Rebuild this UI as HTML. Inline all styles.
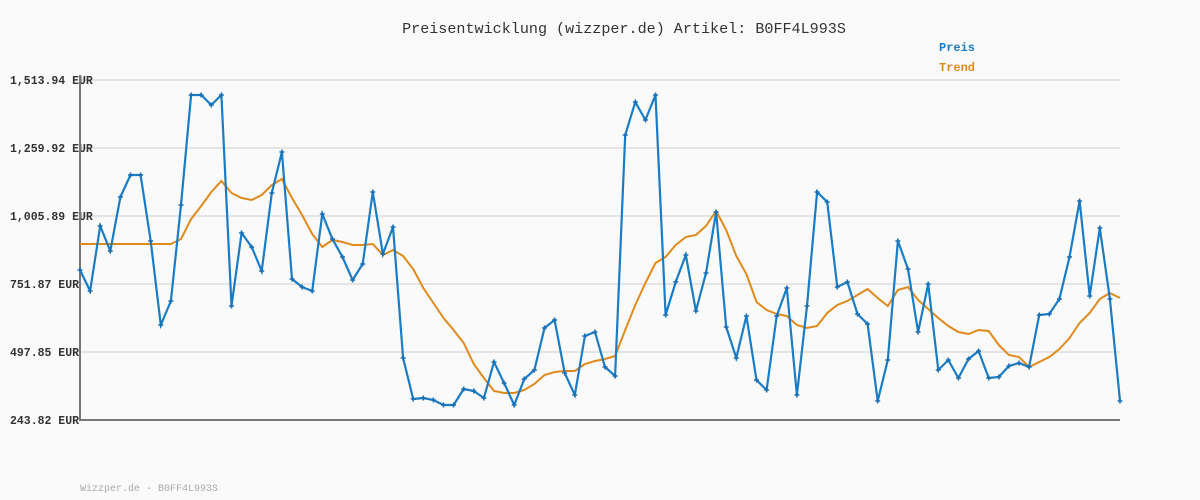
<!DOCTYPE html>
<html><head><meta charset="utf-8"><style>
html,body{margin:0;padding:0;background:#fafafa;}
svg{display:block;}
text{font-family:"Liberation Mono",monospace;}
</style></head><body>
<svg id="s" width="1200" height="500" xmlns="http://www.w3.org/2000/svg">
<rect width="1200" height="500" fill="#fafafa"/>
<text x="624" y="33" font-size="15.1" text-anchor="middle" fill="#333">Preisentwicklung (wizzper.de) Artikel: B0FF4L993S</text>
<text x="939" y="51" font-size="12" font-weight="bold" fill="#1a7cc4">Preis</text>
<text x="939" y="71" font-size="12" font-weight="bold" fill="#e08a1c">Trend</text>
<g stroke="#e4e4e4" stroke-width="2">
<line x1="80" y1="80" x2="1120" y2="80"/><line x1="80" y1="148" x2="1120" y2="148"/>
<line x1="80" y1="216" x2="1120" y2="216"/><line x1="80" y1="284" x2="1120" y2="284"/>
<line x1="80" y1="352" x2="1120" y2="352"/>
</g>
<g font-size="11.5" font-weight="bold" fill="#333">
<text x="10" y="84">1,513.94 EUR</text><text x="10" y="152">1,259.92 EUR</text>
<text x="10" y="220">1,005.89 EUR</text><text x="10" y="288">751.87 EUR</text>
<text x="10" y="356">497.85 EUR</text><text x="10" y="424">243.82 EUR</text>
</g>
<polyline points="80,75 80,420 1120,420" fill="none" stroke="#777" stroke-width="2"/>
<text x="80" y="491" font-size="10" fill="#aaa">Wizzper.de - B0FF4L993S</text>
<g id="g"></g>
</svg>
<script>
var p=[270,291,226,251,197,175,175,241,325,301,205,95,95,105,95,306,233,247,271,193,152,279,287,291,214,239,257,280,264,192,254,227,358,399,398,400,405,405,389,391,398,362,383,405,379,370,328,320,373,395,336,332,367,376,135,102,120,95,315,282,255,311,273,212,327,358,316,380,390,316,288,395,306,192,202,287,282,314,324,401,360,241,269,332,284,370,360,378,359,351,378,377,366,363,367,315,314,299,257,201,296,228,299,401];
var t=[244,244,244,244,244,244,244,244,244,244,239,219,206,192,181,193,198,200,195,185,179,198,215,234,247,240,242,245,245,244,255,250,256,269,288,303,318,330,343,364,378,391,393,393,390,384,375,372,371,371,364,361,359,356,330,305,283,263,257,245,237,235,226,211,230,256,274,302,310,314,316,325,328,326,313,305,301,295,289,298,306,290,287,300,309,318,326,332,334,330,331,345,355,357,367,362,357,349,338,323,313,299,293,298];
var g=document.getElementById('g'),ns='http://www.w3.org/2000/svg';
function pl(a,c,w){var n=a.length,s='';for(var i=0;i<n;i++)s+=(80+i*1040/(n-1)).toFixed(1)+','+a[i]+' ';var e=document.createElementNS(ns,'polyline');e.setAttribute('points',s);e.setAttribute('fill','none');e.setAttribute('stroke',c);e.setAttribute('stroke-width',w);g.appendChild(e);}
pl(t,'#e08a1c',2);pl(p,'#1a7cc4',2.2);
for(var i=0;i<p.length;i++){var x=80+i*1040/(p.length-1);var e=document.createElementNS(ns,'path');e.setAttribute('d','M'+(x-2.5)+','+p[i]+'h5M'+x+','+(p[i]-2.5)+'v5');e.setAttribute('stroke','#1a6fb4');e.setAttribute('stroke-width','1.6');g.appendChild(e);}
</script>
</body></html>
